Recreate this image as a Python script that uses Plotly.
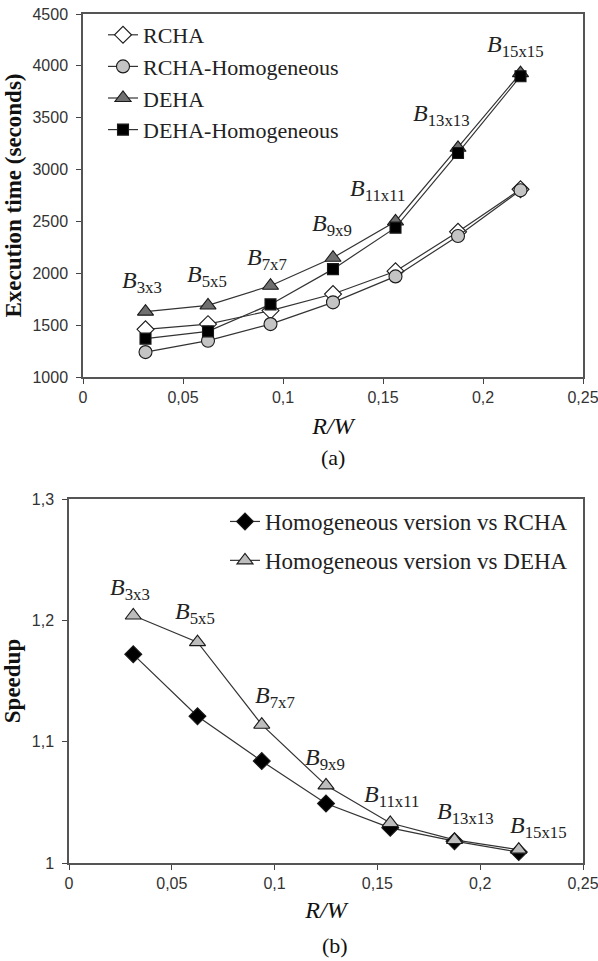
import plotly.graph_objects as go

# ---------------- data ----------------
rw = [0.03125, 0.0625, 0.09375, 0.125, 0.15625, 0.1875, 0.21875]

rcha = [1460, 1510, 1640, 1800, 2020, 2400, 2810]
rcha_hom = [1240, 1350, 1510, 1720, 1970, 2360, 2800]
deha = [1630, 1690, 1880, 2150, 2500, 3210, 3930]
deha_hom = [1370, 1440, 1700, 2040, 2440, 3160, 3900]

speedup_rcha = [1.172, 1.121, 1.084, 1.049, 1.029, 1.018, 1.009]
speedup_deha = [1.204, 1.182, 1.114, 1.064, 1.033, 1.019, 1.011]

block_labels = ["3x3", "5x5", "7x7", "9x9", "11x11", "13x13", "15x15"]

x_tickvals = [0, 0.05, 0.1, 0.15, 0.2, 0.25]
x_ticktext = ["0", "0,05", "0,1", "0,15", "0,2", "0,25"]
y1_tickvals = [1000, 1500, 2000, 2500, 3000, 3500, 4000, 4500]
y1_ticktext = ["1000", "1500", "2000", "2500", "3000", "3500", "4000", "4500"]
y2_tickvals = [1.0, 1.1, 1.2, 1.3]
y2_ticktext = ["1", "1,1", "1,2", "1,3"]

# ---------------- style ----------------
W, H = 598, 961
SERIF = "Liberation Serif"
SANS = "Liberation Sans"
LINE = "#333333"
OUT = "#1a1a1a"

fig = go.Figure()

def add(x, y, name, symbol, fill, size, xa, ya, legend):
    fig.add_trace(go.Scatter(
        x=x, y=y, name=name, mode="lines+markers",
        line=dict(color=LINE, width=1.2),
        marker=dict(symbol=symbol, color=fill, size=size,
                    line=dict(color=OUT, width=1.1)),
        xaxis=xa, yaxis=ya, legend=legend, legendgroup=name,
    ))

# top chart
add(rw, rcha, "RCHA", "diamond", "white", 13, "x", "y", "legend")
add(rw, rcha_hom, "RCHA-Homogeneous", "circle", "#c4c4c4", 13, "x", "y", "legend")
add(rw, deha, "DEHA", "triangle-up", "#707070", 14, "x", "y", "legend")
add(rw, deha_hom, "DEHA-Homogeneous", "square", "#000000", 11, "x", "y", "legend")

# bottom chart
add(rw, speedup_rcha, "Homogeneous version vs RCHA", "diamond", "#000000", 13, "x2", "y2", "legend2")
add(rw, speedup_deha, "Homogeneous version vs DEHA", "triangle-up", "#bdbdbd", 14, "x2", "y2", "legend2")

# block-size labels, shifted (pixels) from the DEHA points
top_shift = [(-4, 30), (-1, 29), (-4, 27), (-1, 33), (-18, 31), (-17, 33), (-5, 27)]
bot_shift = [(-3, 26), (-3, 29), (13, 28), (-1, 26), (1, 27), (11, 27), (20, 23)]
for i, lab in enumerate(block_labels):
    txt = "<i>B</i><sub>" + lab + "</sub>"
    fig.add_annotation(x=rw[i], y=deha[i], xref="x", yref="y", text=txt,
                       showarrow=False, xshift=top_shift[i][0], yshift=top_shift[i][1],
                       font=dict(family=SERIF, size=24, color="#222"))
    fig.add_annotation(x=rw[i], y=speedup_deha[i], xref="x2", yref="y2", text=txt,
                       showarrow=False, xshift=bot_shift[i][0], yshift=bot_shift[i][1],
                       font=dict(family=SERIF, size=24, color="#222"))

# captions
fig.add_annotation(x=333 / W, y=1 - 457 / H, xref="paper", yref="paper", text="(a)",
                   xanchor="center", yanchor="middle",
                   showarrow=False, font=dict(family=SERIF, size=22, color="#111"))
fig.add_annotation(x=335 / W, y=1 - 945 / H, xref="paper", yref="paper", text="(b)",
                   xanchor="center", yanchor="middle",
                   showarrow=False, font=dict(family=SERIF, size=22, color="#111"))

axis_common = dict(showline=True, mirror=True, linecolor="#555", linewidth=1.5,
                   ticks="outside", ticklen=5, tickcolor="#444", tickwidth=1.2,
                   showgrid=False, zeroline=False, automargin=False,
                   ticklabeloverflow="allow",
                   tickfont=dict(family=SANS, size=16, color="#333"))

fig.update_layout(
    width=W, height=H,
    margin=dict(l=0, r=0, t=0, b=0),
    paper_bgcolor="white", plot_bgcolor="white",
    xaxis=dict(domain=[83 / W, 583 / W], anchor="y", range=[0, 0.25],
               tickvals=x_tickvals, ticktext=x_ticktext,
               title=dict(text="<i>R/W</i>", standoff=12,
                          font=dict(family=SERIF, size=24, color="#111")),
               **axis_common),
    yaxis=dict(domain=[1 - 377 / H, 1 - 14 / H], anchor="x", range=[1000, 4500],
               tickvals=y1_tickvals, ticktext=y1_ticktext, ticklabelstandoff=5,
               title=dict(text="<b>Execution time (seconds)</b>", standoff=4,
                          font=dict(family=SERIF, size=23, color="#111")),
               **axis_common),
    xaxis2=dict(domain=[69 / W, 583 / W], anchor="y2", range=[0, 0.25],
                tickvals=x_tickvals, ticktext=x_ticktext,
                title=dict(text="<i>R/W</i>", standoff=10,
                           font=dict(family=SERIF, size=24, color="#111")),
                **axis_common),
    yaxis2=dict(domain=[1 - 863 / H, 1 - 499 / H], anchor="x2", range=[1.0, 1.3],
                tickvals=y2_tickvals, ticktext=y2_ticktext, ticklabelstandoff=5,
                title=dict(text="<b>Speedup</b>", standoff=8,
                           font=dict(family=SERIF, size=23, color="#111")),
                **axis_common),
    legend=dict(x=103 / W, y=1 - 14 / H, xanchor="left", yanchor="top",
                bgcolor="rgba(0,0,0,0)", traceorder="grouped", tracegroupgap=0,
                font=dict(family=SERIF, size=22, color="#222")),
    legend2=dict(x=225 / W, y=1 - 500 / H, xanchor="left", yanchor="top",
                 bgcolor="rgba(0,0,0,0)", traceorder="grouped", tracegroupgap=6,
                 font=dict(family=SERIF, size=23, color="#222")),
)

fig.write_html(
    "out.html",
    config={"displayModeBar": False},
    post_script="document.body.style.margin='0';document.body.style.padding='0';"
                "document.documentElement.style.overflow='hidden';",
)
